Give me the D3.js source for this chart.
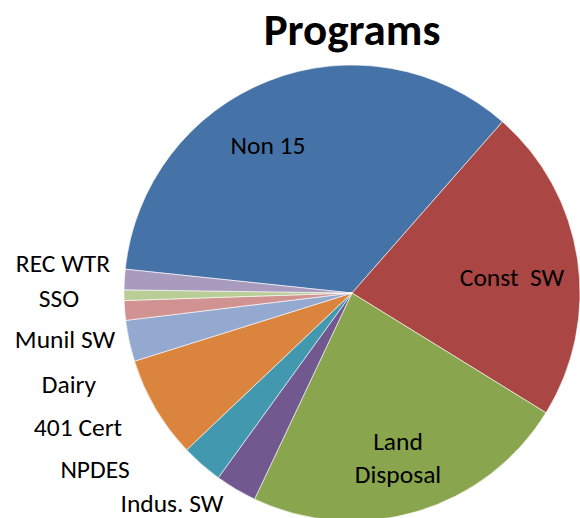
<!DOCTYPE html>
<html>
<head>
<meta charset="utf-8">
<script src="https://cdn.jsdelivr.net/npm/d3@7"></script>
<style>
  html, body { margin: 0; padding: 0; background: #fff; }
  svg { display: block; }
  text { font-family: Carlito, Calibri, Lato, sans-serif; fill: #000; }
</style>
</head>
<body>
<script>
// slice values (read as degrees of the pie)
var programs = ['Non 15', 'Const  SW', 'Land Disposal', 'Indus. SW', 'NPDES',
  '401 Cert', 'Dairy', 'Munil SW', 'SSO', 'REC WTR'];
var counts = [125.3, 80.4, 83.6, 10.6, 10.6, 26.1, 10.5, 5.0, 2.7, 5.2];
var colors = ['#4572A7', '#AA4643', '#89A54E', '#71588F', '#4198AF',
  '#DB843D', '#93A9CF', '#D19392', '#B9CD96', '#A99BBD'];

var width = 580, height = 518,
  cx = 352, cy = 293, radius = 228;

// hand placed labels, as in the original chart
var labelPos = [
  [268, 145], [512, 277], [398, 441], [172, 503], [95, 469],
  [78, 427], [69, 384], [65, 339], [59, 298], [63, 263]
];

var data = programs.map(function(p, i) {
  return { name: p, value: counts[i], color: colors[i], pos: labelPos[i] };
});

var svg = d3.select('body').append('svg')
  .attr('width', width)
  .attr('height', height);

svg.append('text')
  .attr('x', cx)
  .attr('y', 45)
  .attr('text-anchor', 'middle')
  .style('font-size', '45px')
  .style('font-weight', 'bold')
  .text('Programs');

var start = -84 * Math.PI / 180;
var pie = d3.pie()
  .sort(null)
  .value(function(d) { return d.value; })
  .startAngle(start)
  .endAngle(start + 2 * Math.PI);

var arc = d3.arc().innerRadius(0).outerRadius(radius);

var g = svg.append('g')
  .attr('transform', 'translate(' + cx + ',' + cy + ')');

g.selectAll('path')
  .data(pie(data))
  .enter().append('path')
  .attr('d', arc)
  .attr('fill', function(d) { return d.data.color; })
  .attr('stroke', '#fff')
  .attr('stroke-width', 0.6);

var labels = svg.append('g').attr('class', 'labels');

labels.selectAll('text')
  .data(data)
  .enter().append('text')
  .attr('text-anchor', 'middle')
  .attr('x', function(d) { return d.pos[0]; })
  .attr('y', function(d) { return d.pos[1]; })
  .attr('dy', '0.35em')
  .style('font-size', '25.5px')
  .each(function(d) {
    var t = d3.select(this);
    if (d.name === 'Land Disposal') {
      t.attr('dy', null);
      t.append('tspan').attr('x', d.pos[0]).attr('dy', '0.35em').text('Land');
      t.append('tspan').attr('x', d.pos[0]).attr('dy', '33px').text('Disposal');
    } else {
      t.style('white-space', 'pre').text(d.name);
    }
  });
</script>
</body>
</html>
